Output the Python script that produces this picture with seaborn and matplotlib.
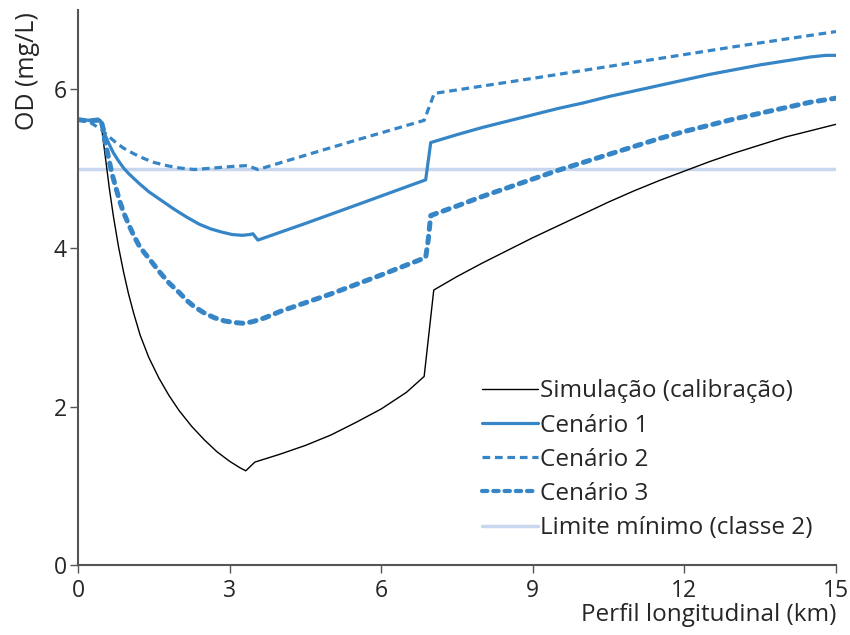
import pandas as pd
import matplotlib.pyplot as plt
import seaborn as sns

sns.set_style("ticks")
plt.rcParams["font.family"] = ["Open Sans", "DejaVu Sans"]

# Simulação (calibração)
sim_x = [0, 0.44, 0.48, 0.55, 0.62, 0.7, 0.8, 0.9, 1.0, 1.1, 1.23, 1.4, 1.6, 1.8,
         2.0, 2.25, 2.5, 2.75, 3.0, 3.2, 3.32, 3.5, 4.0, 4.5, 5.0, 5.5, 6.0, 6.5,
         6.85, 7.04, 7.5, 8, 8.5, 9, 9.5, 10, 10.5, 11, 11.5, 12, 12.5, 13, 13.5,
         14, 14.5, 15]
sim_y = [5.62, 5.62, 5.45, 5.1, 4.75, 4.4, 4.02, 3.7, 3.42, 3.18, 2.9, 2.62, 2.36,
         2.14, 1.95, 1.75, 1.58, 1.43, 1.31, 1.23, 1.19, 1.3, 1.4, 1.51, 1.64, 1.8,
         1.97, 2.18, 2.38, 3.47, 3.64, 3.81, 3.97, 4.13, 4.28, 4.43, 4.58, 4.72,
         4.85, 4.97, 5.09, 5.2, 5.3, 5.4, 5.48, 5.56]

# Cenário 1
c1_x = [0, 0.45, 0.5, 0.6, 0.7, 0.8, 0.9, 1.0, 1.2, 1.4, 1.65, 1.9, 2.15, 2.4,
        2.63, 2.85, 3.05, 3.25, 3.4, 3.46, 3.56, 4.5, 5.5, 6.88, 6.98, 7.5, 8, 8.5,
        9, 9.5, 10, 10.5, 11, 11.5, 12, 12.5, 13, 13.5, 14, 14.5, 14.8, 15]
c1_y = [5.62, 5.6, 5.48, 5.33, 5.2, 5.1, 5.01, 4.94, 4.82, 4.71, 4.6, 4.49, 4.39,
        4.3, 4.24, 4.2, 4.17, 4.16, 4.17, 4.18, 4.1, 4.31, 4.54, 4.86, 5.33, 5.43,
        5.52, 5.6, 5.68, 5.76, 5.83, 5.91, 5.98, 6.05, 6.12, 6.19, 6.25, 6.31,
        6.36, 6.41, 6.43, 6.43]

# Cenário 2
c2_x = [0, 0.25, 0.45, 0.6, 0.75, 0.9, 1.1, 1.3, 1.5, 1.75, 2.0, 2.3, 2.7, 3.08,
        3.35, 3.56, 4.5, 5.5, 6.85, 7.05, 9, 11, 13, 15]
c2_y = [5.62, 5.58, 5.5, 5.41, 5.33, 5.26, 5.19, 5.13, 5.08, 5.04, 5.01, 4.99,
        5.01, 5.03, 5.04, 4.99, 5.17, 5.36, 5.61, 5.95, 6.14, 6.34, 6.54, 6.73]

# Cenário 3
c3_x = [0, 0.2, 0.45, 0.5, 0.53, 0.6, 0.67, 0.75, 0.82, 0.9, 1.0, 1.1, 1.2, 1.3,
        1.39, 1.5, 1.65, 1.8, 2.0, 2.15, 2.3, 2.5, 2.7, 2.9, 3.1, 3.28, 3.45, 3.7,
        4, 5, 6, 6.88, 6.93, 6.98, 7.5, 8, 8.5, 9, 9.5, 10, 10.5, 11, 11.5, 12,
        12.5, 13, 13.5, 14, 14.5, 15]
c3_y = [5.62, 5.6, 5.62, 5.5, 5.36, 5.15, 4.94, 4.76, 4.6, 4.45, 4.3, 4.16, 4.04,
        3.95, 3.88, 3.79, 3.67, 3.56, 3.44, 3.34, 3.26, 3.18, 3.12, 3.08, 3.06,
        3.05, 3.07, 3.12, 3.2, 3.42, 3.66, 3.88, 4.1, 4.41, 4.53, 4.65, 4.76, 4.87,
        4.98, 5.08, 5.18, 5.28, 5.38, 5.47, 5.55, 5.63, 5.7, 5.77, 5.84, 5.89]

# Limite mínimo (classe 2)
lim_x = [0, 15]
lim_y = [5, 5]

blue = "#3585c7"

fig, ax = plt.subplots(figsize=(8.5, 6.35), dpi=100)
fig.subplots_adjust(left=0.0918, right=0.9835, bottom=0.110, top=0.984)

sns.lineplot(x=sim_x, y=sim_y, ax=ax, color="black", linewidth=1.0,
             label="Simulação (calibração)", sort=False)
sns.lineplot(x=c1_x, y=c1_y, ax=ax, color=blue, linewidth=2.3,
             label="Cenário 1", sort=False)
sns.lineplot(x=c2_x, y=c2_y, ax=ax, color=blue, linewidth=2.3,
             label="Cenário 2", sort=False)
sns.lineplot(x=c3_x, y=c3_y, ax=ax, color=blue, linewidth=3.6,
             label="Cenário 3", sort=False)
sns.lineplot(x=lim_x, y=lim_y, ax=ax, color="#c9d7ee", linewidth=2.5,
             label="Limite mínimo (classe 2)", sort=False)

lines = ax.get_lines()
lines[2].set_dashes([2.4, 1.5])
lines[3].set_dashes([1.3, 1.4])
lines[3].set_dash_capstyle("round")
lines[4].set_zorder(1)

ax.set_xlim(0, 15)
ax.set_ylim(0, 7)
ax.set_xticks([0, 3, 6, 9, 12, 15])
ax.set_yticks([0, 2, 4, 6])
sns.despine(ax=ax)
for s in ["left", "bottom"]:
    ax.spines[s].set_color("#555555")
    ax.spines[s].set_linewidth(1.5)
ax.tick_params(axis="both", length=6, width=1, color="#555555", labelsize=16.5)
ax.tick_params(axis="y", pad=2)
ax.tick_params(axis="x", pad=4)

ax.set_ylabel("OD (mg/L)", fontsize=18)
ax.yaxis.set_label_coords(-0.05, 0.89)
ax.set_xlabel("Perfil longitudinal (km)", fontsize=17.5)
ax.xaxis.set_label_coords(1.0, -0.068)
ax.xaxis.label.set_horizontalalignment("right")

leg = ax.legend(loc="lower right", bbox_to_anchor=(0.969, 0.045), frameon=False,
                fontsize=17.5, handlelength=2.3, handletextpad=0.1,
                labelspacing=0.42, borderpad=0, borderaxespad=0)
for h in leg.get_lines():
    h.set_linewidth(min(h.get_linewidth(), 3))

fig.savefig("out.png", dpi=100)
